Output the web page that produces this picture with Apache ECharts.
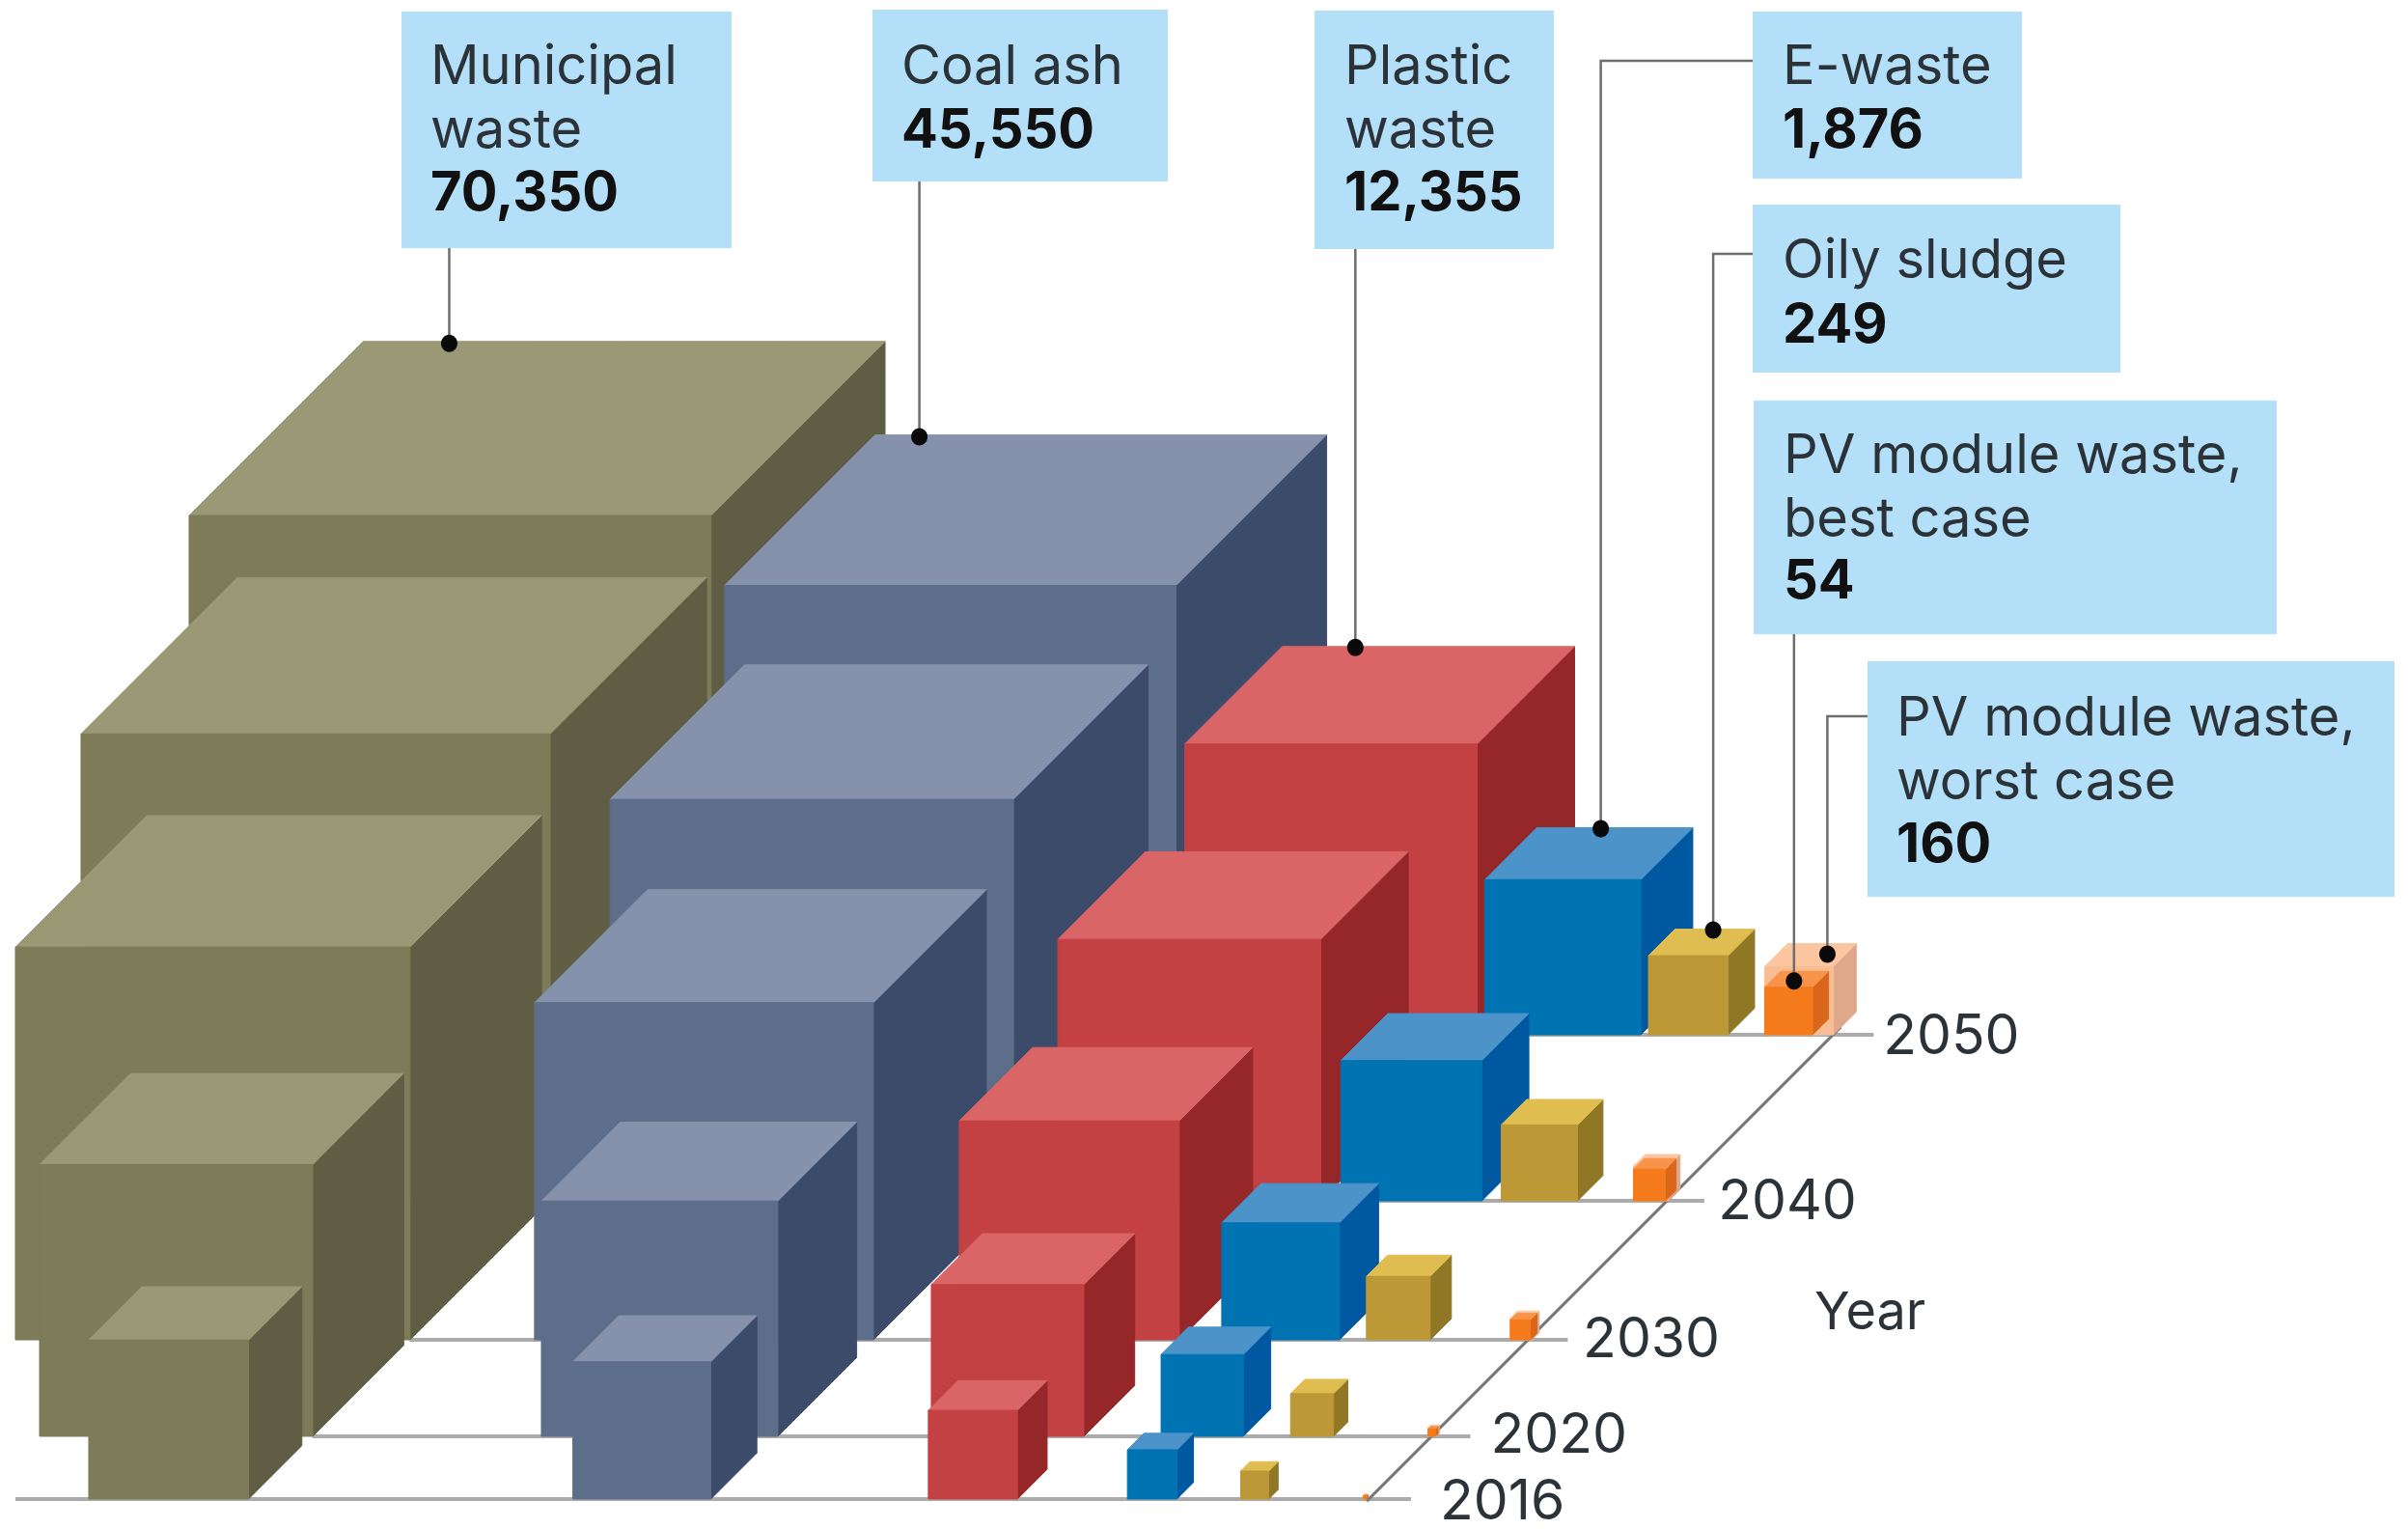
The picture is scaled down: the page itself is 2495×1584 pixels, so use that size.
<!DOCTYPE html>
<html><head><meta charset="utf-8">
<style>html,body{margin:0;padding:0;background:#fff}#c{width:2495px;height:1584px}</style>
<script src="https://cdn.jsdelivr.net/npm/echarts@6/dist/echarts.min.js"></script>
</head><body><div id="c"></div>
<script>
// ---- data: waste (1,000 t), cube volume proportional to value ----
const years = [2016, 2020, 2030, 2040, 2050];
const municipal = [2020, 10080, 30400, 51100, 70350];
const coalAsh = [1300, 6540, 19250, 32500, 45550];
const plastic = [350, 1755, 5270, 8980, 12355];
const eWaste = [60, 275, 805, 1386, 1876];
const oilySludge = [11, 39, 128, 220, 249];
const pvWorst = [0.02, 0.3, 5, 21, 160];
const pvBest = [0.02, 0.2, 4, 16, 54];
const seriesValues = [municipal, coalAsh, plastic, eWaste, oilySludge, pvWorst, pvBest];

// ---- layout, in axis units (one unit = cube root of one value unit) ----
const UNIT_PX = 13.1;
const HEIGHT_RATIO = 0.995;
const rowDepth = [2.37, 7.33, 14.96, 25.95, 39.08];
const rowStart = [7.02, 3.13, 1.22, 6.41, 14.96];
const rowGaps = [
  [25.65, 17.2, 8.7, 5.04, 7.48],
  [18.09, 12.14, 6.11, 3.74, 7.48],
  [9.85, 6.79, 3.36, 2.14, 6.34],
  [4.73, 3.51, 1.60, 1.53, 4.43],
  [1.07, 0.69, 0.61, 0.61, 2.90]
];
const rowLineStart = [1.22, 24.7, 32.4, 6.41, 14.96];
const rowLineEnd = [111.6, 116.3, 124.0, 134.8, 148.2];
const yearLabelX = [113.9, 117.9, 125.2, 135.9, 148.95];
const yearLabelNudge = [4, 0, 1, 2, 3];
const yearAxisFrom = [108.1, 2.2];
const yearAxisTo = [145.6, 39.7];

// ---- style ----
const palette = [
  {front:'#7d7b58', top:'#9a9875', side:'#5f5e44'},
  {front:'#5d6e8a', top:'#8692ab', side:'#3c4b69'},
  {front:'#c34043', top:'#d96566', side:'#962728'},
  {front:'#0073b3', top:'#4b93c9', side:'#0058a0'},
  {front:'#bd9836', top:'#e0bd50', side:'#8f7726'},
  {front:'#f9bd93', top:'#fbc6a0', side:'#e0a88a'},
  {front:'#f47a1b', top:'#f8934a', side:'#d9661a'}
];
const FONT = 'Inter, Roboto, sans-serif';
const INK = '#2b3238';

// ---- callouts ----
const callouts = [
  {rect:[416,12,342,245], x:446, lines:[['Municipal',87],['waste',153]], value:['70,350',218]},
  {rect:[904,10,306,178], x:934, lines:[['Coal ash',87]], value:['45,550',153]},
  {rect:[1362,11,248,247], x:1393, lines:[['Plastic',87],['waste',153]], value:['12,355',218]},
  {rect:[1816,12,279,173], x:1847, lines:[['E-waste',87]], value:['1,876',153]},
  {rect:[1816,212,381,174], x:1847, lines:[['Oily sludge',288]], value:['249',355]},
  {rect:[1817,415,542,242], x:1848, lines:[['PV module waste,',490],['best case',556]], value:['54',620]},
  {rect:[1935,685,546,244], x:1965, lines:[['PV module waste,',762],['worst case',828]], value:['160',893]}
];
// type index, position of the dot along the cube's back top edge, inset, and where the leader ends
const leaders = [
  {type:0, frac:.165, inset:2, endY:257},
  {type:1, frac:.098, inset:2, endY:188},
  {type:2, frac:.25, inset:1, endY:258},
  {type:3, frac:.41, inset:1, endY:63, endX:1816},
  {type:4, frac:.48, inset:1, endY:263, endX:1816},
  {type:6, frac:.28, inset:10, endY:657},
  {type:5, frac:.58, inset:11, endY:742, endX:1935}
];

// ---- stack each row of cubes along the x axis ----
function edgeOf(v){ return Math.cbrt(v); }
function rowLefts(r){
  const lefts = []; let x = rowStart[r];
  for (let t = 0; t < 5; t++){
    lefts.push(x);
    x += edgeOf(seriesValues[t][r]) + rowGaps[r][t];
  }
  lefts.push(x, x);
  return lefts;
}
const cubeData = [];
for (let r = years.length - 1; r >= 0; r--){
  const lefts = rowLefts(r);
  seriesValues.forEach((vals, t) => cubeData.push([lefts[t], rowDepth[r], edgeOf(vals[r]), t]));
}
const lastRow = years.length - 1;
const lastLefts = rowLefts(lastRow);
const leaderData = leaders.map((l, i) => [lastLefts[l.type], rowDepth[lastRow], edgeOf(seriesValues[l.type][lastRow]), i]);
const rowData = years.map((y, r) => [rowLineStart[r], rowDepth[r], rowLineEnd[r], r]);

function poly(points, fill, stroke){
  return {type:'polygon', shape:{points}, style:{fill, stroke:stroke||fill, lineWidth:1}};
}
function renderCube(params, api){
  const p = api.coord([api.value(0), api.value(1)]);
  const e = api.size([api.value(2), api.value(2)])[0];
  const h = e * HEIGHT_RATIO;
  const c = palette[api.value(3)];
  const d = e / 3;
  const [x, y] = p;
  return {type:'group', children:[
    poly([[x+e,y],[x+e+d,y-d],[x+e+d,y-h-d],[x+e,y-h]], c.side),
    poly([[x,y-h],[x+e,y-h],[x+e+d,y-h-d],[x+d,y-h-d]], c.top),
    poly([[x,y],[x+e,y],[x+e,y-h],[x,y-h]], c.front)
  ]};
}
function renderRow(params, api){
  const a = api.coord([api.value(0), api.value(1)]);
  const b = api.coord([api.value(2), api.value(1)]);
  const r = api.value(3);
  const lx = api.coord([yearLabelX[r], api.value(1)]);
  return {type:'group', children:[
    {type:'line', shape:{x1:a[0],y1:a[1],x2:b[0],y2:b[1]}, style:{stroke:'#ababab', lineWidth:4}},
    {type:'text', style:{text:String(years[r]), x:lx[0], y:a[1] + yearLabelNudge[r],
      font:'400 57px '+FONT, fill:INK, align:'left', verticalAlign:'middle'}}
  ]};
}
function renderLeader(params, api){
  const p = api.coord([api.value(0), api.value(1)]);
  const e = api.size([api.value(2), api.value(2)])[0];
  const l = leaders[api.value(3)];
  const d = e / 3;
  const dx = p[0] + d + l.frac * e;
  const dy = p[1] - e * HEIGHT_RATIO - d + l.inset;
  const pts = [[dx, dy], [dx, l.endY]];
  if (l.endX) pts.push([l.endX, l.endY]);
  return {type:'group', children:[
    {type:'polyline', shape:{points:pts}, style:{fill:null, stroke:'#6e6e6e', lineWidth:2.5}},
    {type:'ellipse', shape:{cx:dx, cy:dy, rx:8.5, ry:9}, style:{fill:'#0a0a0a'}}
  ]};
}

const graphics = [];
callouts.forEach(c => {
  graphics.push({type:'rect', z:10, shape:{x:c.rect[0], y:c.rect[1], width:c.rect[2], height:c.rect[3]}, style:{fill:'#b3e0f8'}});
  c.lines.forEach(([t, by]) => graphics.push({type:'text', z:11, style:{text:t, x:c.x, y:by-17, font:'400 56px '+FONT, fill:INK, align:'left', verticalAlign:'middle'}}));
  graphics.push({type:'text', z:11, style:{text:c.value[0], x:c.x, y:c.value[1]-17, font:'700 56px '+FONT, fill:'#111', align:'left', verticalAlign:'middle'}});
});
graphics.push({type:'text', z:11, style:{text:'Year', x:1880, y:1361, font:'400 54px '+FONT, fill:INK, align:'left', verticalAlign:'middle'}});

const chart = echarts.init(document.getElementById('c'), null, {renderer:'canvas'});
chart.setOption({
  animation:false,
  backgroundColor:'#ffffff',
  tooltip:{show:false},
  grid:{left:0, right:0, top:0, bottom:0},
  xAxis:{type:'value', min:0, max:2495/UNIT_PX, show:false},
  yAxis:{type:'value', min:0, max:1584/UNIT_PX, show:false},
  graphic:graphics,
  series:[
    {type:'custom', name:'Year rows', renderItem:renderRow, data:rowData, encode:{x:0,y:1}, z:1, clip:false, silent:true},
    {type:'line', name:'Year axis', data:[yearAxisFrom, yearAxisTo], showSymbol:false, symbol:'none', z:2, silent:true,
      lineStyle:{color:'#777', width:3}},
    {type:'custom', name:'Cubes', renderItem:renderCube, data:cubeData, encode:{x:0,y:1}, z:3, clip:false, silent:true},
    {type:'custom', name:'Leaders', renderItem:renderLeader, data:leaderData, encode:{x:0,y:1}, z:4, clip:false, silent:true}
  ]
});
</script></body></html>
